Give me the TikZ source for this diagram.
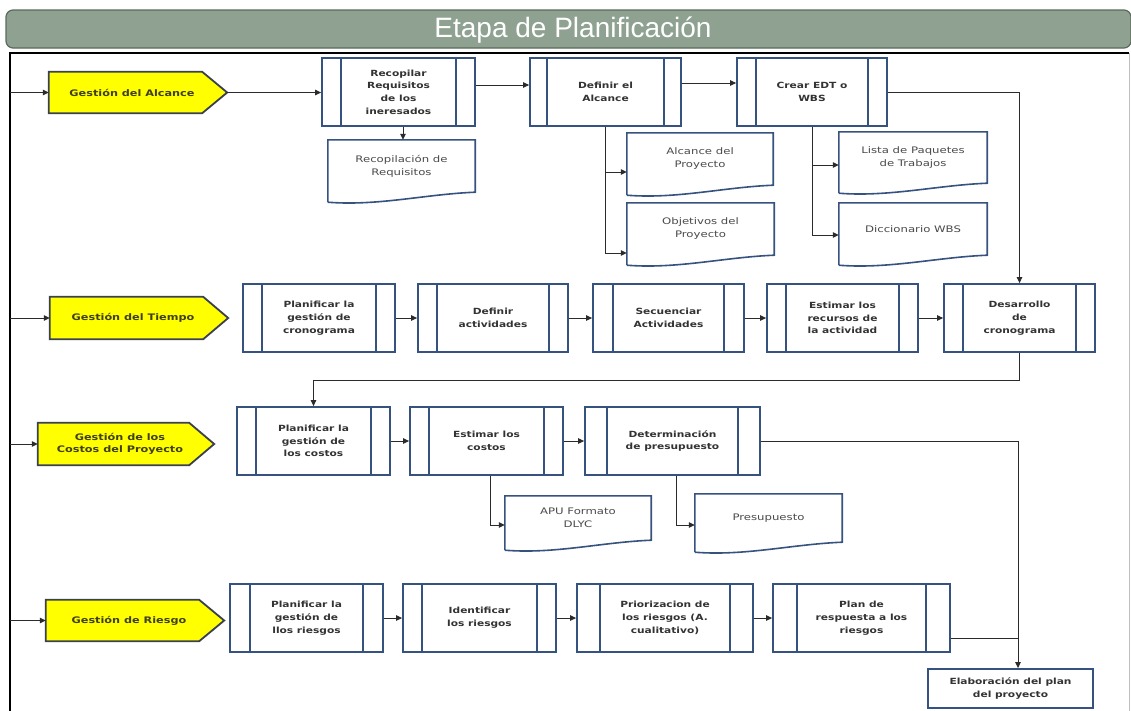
\documentclass[tikz,border=0pt]{standalone}
\usepackage{fontspec}
\setmainfont{DejaVu Sans}
\newfontfamily\boxfont{DejaVu Sans}[FakeStretch=1.25]
\newfontfamily\docfont{DejaVu Sans}[FakeStretch=1.3]
\newfontfamily\titlefont{Liberation Sans}
\usetikzlibrary{arrows.meta,calc}

\definecolor{boxblue}{HTML}{36527F}
\definecolor{boxtext}{HTML}{333333}
\definecolor{doctext}{HTML}{4A4A4A}
\definecolor{penttext}{HTML}{3F3F1A}
\definecolor{pentfill}{HTML}{FFFF00}
\definecolor{pentline}{HTML}{3A4050}
\definecolor{headfill}{HTML}{8FA292}
\definecolor{headline}{HTML}{5A6A5C}
\definecolor{connline}{HTML}{2B2B2B}

\tikzset{
  stripw/.store in=\stripw, stripw=19pt,
  procbox/.style={draw=boxblue, line width=1.8pt, fill=white, minimum height=68pt,
    inner sep=0pt, align=center, text=boxtext,
    font={\boxfont\bfseries\fontsize{8.5}{12.7}\selectfont},
    path picture={
      \draw[boxblue, line width=1.6pt]
        ([xshift=\stripw]path picture bounding box.north west) --
        ([xshift=\stripw]path picture bounding box.south west);
      \draw[boxblue, line width=1.6pt]
        ([xshift=-\stripw]path picture bounding box.north east) --
        ([xshift=-\stripw]path picture bounding box.south east);
    }},
  plainbox/.style={draw=boxblue, line width=1.8pt, fill=white, inner sep=0pt,
    align=center, text=boxtext, font={\boxfont\bfseries\fontsize{8.5}{12.7}\selectfont}},
  docnode/.style={inner sep=0pt, align=center, text=doctext,
    font={\docfont\fontsize{9}{13}\selectfont}},
  docline/.style={draw=boxblue, line width=1.6pt},
  pentbody/.style={inner sep=0pt},
  penttxt/.style={inner sep=0pt, align=center, text=penttext,
    font={\boxfont\bfseries\fontsize{9}{12.5}\selectfont}},
  pentshape/.style={draw=pentline, line width=1.8pt, fill=pentfill, line join=miter},
  conn/.style={draw=connline, line width=1pt},
  arr/.style={conn, -{Triangle[length=6pt,width=5.5pt]}},
  header/.style={draw=headline, line width=1.2pt, fill=headfill, rounded corners=7pt},
  titletext/.style={text=white, font={\titlefont\fontsize{28}{30}\selectfont}, inner sep=0pt},
}

% document symbol: rectangle with a wavy lower edge
\newcommand\docwave[1]{%
  \draw[docline] ([yshift=-10pt]#1.south west) -- (#1.north west) -- (#1.north east)
    -- (#1.south east)
    .. controls ([xshift=-50pt,yshift=-2pt]#1.south east)
       and ([xshift=50pt,yshift=-14pt]#1.south west) ..
    ([yshift=-10pt]#1.south west);}

% arrow-shaped lane label: pentagon pointing right
\newcommand\pentdraw[1]{%
  \draw[pentshape] (#1.north west) -- ([xshift=-25pt]#1.north east) -- (#1.east)
    -- ([xshift=-25pt]#1.south east) -- (#1.south west) -- cycle;}

\begin{document}
\begin{tikzpicture}[x=1pt,y=-1pt]
\useasboundingbox (0,0) rectangle (1131,710);
\clip (0,0) rectangle (1131,710);
\fill[white] (0,0) rectangle (1131,710);

% title bar
\draw[header] (6,10) rectangle (1131,48);
\node[titletext] (title) at (573,30) {Etapa de Planificación};

% outer frame
\draw[black, line width=1.2pt] (10,730) -- (10,53) -- (1129,53);
\draw[black!25, line width=0.8pt] (1129,53) -- (1129,730);
\coordinate (fl) at (10,0);

% ---------- lane 1: alcance ----------
\node[pentbody, minimum width=178pt, minimum height=41pt] (p1) at (138,92.5) {};
\pentdraw{p1}
\node[penttxt] (p1t) at ([xshift=-6pt]p1.center) {Gestión del Alcance};

\node[procbox, minimum width=153pt] (b11) at (398.5,92) {Recopilar\\Requisitos\\de los\\ineresados};
\node[procbox, minimum width=151pt, stripw=17pt] (b12) at (605.5,92) {Definir el\\Alcance};
\node[procbox, minimum width=150pt] (b13) at (812,92) {Crear EDT o\\WBS};

\node[docnode, minimum width=147pt, minimum height=52pt] (d11) at (401.5,166) {Recopilación de\\Requisitos};
\docwave{d11}
\node[docnode, minimum width=146pt, minimum height=52pt] (d12) at (700,159) {Alcance del\\Proyecto};
\docwave{d12}
\node[docnode, minimum width=147pt, minimum height=52pt] (d13) at (700.5,229) {Objetivos del\\Proyecto};
\docwave{d13}
\node[docnode, minimum width=148pt, minimum height=51pt] (d14) at (913,157.5) {Lista de Paquetes\\de Trabajos};
\docwave{d14}
\node[docnode, minimum width=148pt, minimum height=52pt] (d15) at (913,229) {Diccionario WBS};
\docwave{d15}

\draw[arr] (p1.west -| fl) -- (p1.west);
\draw[arr] (p1.east) -- (p1.east -| b11.west);
\draw[arr] ([yshift=7pt]b11.east) -- ([yshift=7pt]b12.west);
\draw[arr] ([yshift=9pt]b12.east) -- ([yshift=9pt]b13.west);
\coordinate (s11) at ([xshift=4.5pt]b11.south);
\draw[arr] (s11) -- (s11 |- d11.north);
\draw[arr] (b12.south) |- ([yshift=-13pt]d12.west);
\draw[arr] (b12.south) |- ([yshift=-24pt]d13.west);
\draw[arr] (b13.south) |- ([yshift=-7.5pt]d14.west);
\draw[arr] (b13.south) |- ([yshift=-6pt]d15.west);

% ---------- lane 2: tiempo ----------
\node[pentbody, minimum width=178pt, minimum height=42pt] (p2) at (139,318) {};
\pentdraw{p2}
\node[penttxt] (p2t) at ([xshift=-6pt]p2.center) {Gestión del Tiempo};

\node[procbox, minimum width=152pt] (b21) at (319,318) {Planificar la\\gestión de\\cronograma};
\node[procbox, minimum width=150pt] (b22) at (493,318) {Definir\\actividades};
\node[procbox, minimum width=151pt, stripw=20pt] (b23) at (668.5,318) {Secuenciar\\Actividades};
\node[procbox, minimum width=151pt] (b24) at (842.5,318) {Estimar los\\recursos de\\la actividad};
\node[procbox, minimum width=151pt] (b25) at (1019.5,318) {Desarrollo\\de\\cronograma};

\draw[arr] (p2.west -| fl) -- (p2.west);
\draw[arr] (b21.east) -- (b22.west);
\draw[arr] (b22.east) -- (b23.west);
\draw[arr] (b23.east) -- (b24.west);
\draw[arr] (b24.east) -- (b25.west);
\draw[arr] (b13.east) -| (b25.north);

% ---------- lane 3: costos ----------
\node[pentbody, minimum width=176pt, minimum height=42pt] (p3) at (126,444) {};
\pentdraw{p3}
\node[penttxt] (p3t) at ([xshift=-6pt]p3.center) {Gestión de los\\Costos del Proyecto};

\node[procbox, minimum width=153pt] (b31) at (313.5,441) {Planificar la\\gestión de\\los costos};
\node[procbox, minimum width=153pt] (b32) at (486.5,441) {Estimar los\\costos};
\node[procbox, minimum width=175pt, stripw=22pt] (b33) at (672.5,441) {Determinación\\de presupuesto};

\node[docnode, minimum width=146pt, minimum height=44pt] (d31) at (578,518) {APU Formato\\DLYC};
\docwave{d31}
\node[docnode, minimum width=147pt, minimum height=48pt] (d32) at (768.5,518) {Presupuesto};
\docwave{d32}

\draw[arr] (p3.west -| fl) -- (p3.west);
\draw[arr] (b25.south) -- ++(0,28) -| (b31.north);
\draw[arr] (b31.east) -- (b32.west);
\draw[arr] (b32.east) -- (b33.west);
\coordinate (s32) at ([xshift=3.5pt]b32.south);
\draw[arr] (s32) |- ([yshift=-7pt]d31.west);
\coordinate (s33) at ([xshift=3.5pt]b33.south);
\draw[arr] (s33) |- ([yshift=-7pt]d32.west);

% ---------- lane 4: riesgo ----------
\node[pentbody, minimum width=178pt, minimum height=41pt] (p4) at (135,620.5) {};
\pentdraw{p4}
\node[penttxt] (p4t) at ([xshift=-6pt]p4.center) {Gestión de Riesgo};

\node[procbox, minimum width=153pt, stripw=20pt] (b41) at (306.5,618) {Planificar la\\gestión de\\llos riesgos};
\node[procbox, minimum width=153pt] (b42) at (479.5,618) {Identificar\\los riesgos};
\node[procbox, minimum width=176pt, stripw=23pt] (b43) at (665,618) {Priorizacion de\\los riesgos (A.\\cualitativo)};
\node[procbox, minimum width=177pt, stripw=24pt] (b44) at (861.5,618) {Plan de\\respuesta a los\\riesgos};

\node[plainbox, minimum width=165pt, minimum height=39pt] (elab) at (1010.5,688.5) {Elaboración del plan\\del proyecto};

\draw[arr] (p4.west -| fl) -- (p4.west);
\draw[arr] (b41.east) -- (b42.west);
\draw[arr] (b42.east) -- (b43.west);
\draw[arr] (b43.east) -- (b44.west);

% merge into the project plan
\coordinate (vr) at (1018,441);
\draw[arr] (b33.east) -| (elab.north -| vr);
\coordinate (r4) at ($(b44.east)+(0,20)$);
\draw[conn] (r4) -- (r4 -| vr);
\end{tikzpicture}
\end{document}
